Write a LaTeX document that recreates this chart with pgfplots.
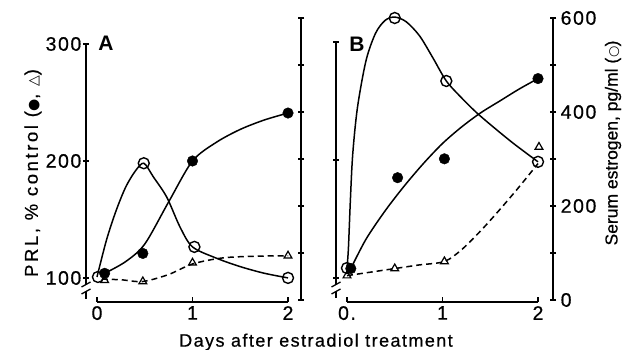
\documentclass[border=0pt]{standalone}
\usepackage{pgfplots}
\pgfplotsset{compat=1.18}
\usepackage{fontspec}
\setmainfont{Liberation Sans}
\newfontfamily\spaced[LetterSpace=8,FakeBold=0.6]{Liberation Sans}
\newfontfamily\wspaced[LetterSpace=14,FakeBold=0.6]{Liberation Sans}
\newfontfamily\plain[FakeBold=0.6]{Liberation Sans}
\newfontfamily\sym{DejaVu Sans}

\pgfplotsset{
  base/.style={scale only axis, anchor=south west, clip=false,
    axis line style={line width=1.5pt,-},
    every tick/.append style={line width=1.5pt,black},
    major tick length=6pt,
    tick label style={font=\spaced\fontsize{19.5}{22}\selectfont},
    /pgf/number format/assume math mode=true},
  na/.style={every outer x axis line/.append style={-},
    every outer y axis line/.append style={-},
    every inner x axis line/.append style={-},
    every inner y axis line/.append style={-},
    x axis line style={-}, y axis line style={-}},
  yonly/.style={axis x line=none, xtick=\empty, tick align=outside,
    yticklabel style={inner sep=1.5pt}},
  xonly/.style={axis y line=none, ytick=\empty, axis x line=bottom,
    tick align=inside, major tick length=5pt, xmin=0, xmax=2, ymin=0, ymax=1,
    xtick={0,1,2}, xticklabel style={inner sep=2pt, yshift=-2pt}},
  crv/.style={black, line width=1.5pt, smooth, tension=0.5, no marks},
  dcrv/.style={black, line width=1.5pt, smooth, tension=0.5, no marks, dash pattern=on 6pt off 4pt},
  fmk/.style={only marks, mark=*, mark size=5.3pt, mark options={fill=black, draw=black}},
  omk/.style={only marks, mark=o, mark size=5.5pt, mark options={fill=white, draw=black, line width=1.4pt}},
  tmk/.style={only marks, mark=triangle, mark size=4.5pt, mark options={fill=white, draw=black, line width=1.2pt}},
}

\begin{document}
\begin{tikzpicture}[x=1pt,y=1pt]
\path[use as bounding box] (0,0) rectangle (628,350);

% ===== Panel A : PRL axis (left) =====
\begin{axis}[base, yonly, at={(86pt,51pt)}, width=215pt, height=255pt,
  xmin=-0.115, xmax=2.136, ymin=82.05, ymax=300,
  axis y line=left, ytick={100,200,300}, na]
  \addplot[crv] coordinates {(0.08,104) (0.3,114) (0.5,129) (0.75,165) (1.0,200) (1.25,216) (1.5,227) (1.75,235) (2.0,241)};
  \addplot[dcrv] coordinates {(0.05,99) (0.25,98.5) (0.48,97) (0.75,103) (1.0,112) (1.3,117) (1.6,118.5) (2.0,119)};
  \addplot[fmk] coordinates {(0.08,104) (0.48,121) (1.0,200) (2.0,241)};
  \addplot[tmk] coordinates {(0.08,98) (0.48,97) (1.0,113) (2.0,119)};
\end{axis}

% ===== Panel A : estrogen axis (right, unlabeled) =====
\begin{axis}[base, yonly, at={(86pt,50pt)}, width=215pt, height=282pt,
  xmin=-0.115, xmax=2.136, ymin=0, ymax=600,
  axis y line=right, ytick={0,100,200,300,400,500,600}, yticklabels={}, na]
  \addplot[crv] coordinates {(0,49) (0.1,128) (0.2,190) (0.3,240) (0.4,274) (0.49,291) (0.59,262) (0.73,219) (0.87,155) (1.0,113) (1.25,89) (1.5,71) (1.75,57) (2.0,47)};
  \addplot[omk] coordinates {(0.01,49) (0.49,291) (1.02,113) (2.0,47)};
\end{axis}

% ===== Panel A : x axis =====
\begin{axis}[base, xonly, at={(97pt,48pt)}, width=191pt, height=100pt, na]
\end{axis}

% ===== Panel B : PRL axis (left, unlabeled) =====
\begin{axis}[base, yonly, at={(336pt,52pt)}, width=217pt, height=256pt,
  xmin=-0.115, xmax=2.157, ymin=83.05, ymax=300,
  axis y line=left, ytick={100,200,300}, yticklabels={}, na]
  \addplot[crv] coordinates {(0.04,108) (0.2,133) (0.4,157) (0.6,178) (0.8,197) (1.0,214) (1.2,228) (1.4,240) (1.6,250) (1.8,260) (2.0,269)};
  \addplot[dcrv] coordinates {(0,102) (0.25,105) (0.5,108) (0.75,111) (1.02,114) (1.2,124) (1.4,140) (1.6,158) (1.8,177) (2.0,197)};
  \addplot[fmk] coordinates {(0.04,108) (0.53,185) (1.02,201) (2.0,269)};
  \addplot[tmk] coordinates {(0.0,102) (0.5,108) (1.02,114) (2.01,211)};
\end{axis}

% ===== Panel B : estrogen axis (right, labeled) =====
\begin{axis}[base, yonly, at={(336pt,50pt)}, width=217pt, height=282pt,
  xmin=-0.115, xmax=2.157, ymin=0, ymax=600,
  axis y line=right, ytick={0,100,200,300,400,500,600},
  yticklabels={0,,200,,400,,600}, yticklabel style={xshift=3pt}, na]
  \addplot[crv] coordinates {(0,68) (0.015,110) (0.035,210) (0.06,310) (0.11,410) (0.2,510) (0.3,568) (0.4,595) (0.5,602) (0.62,592) (0.76,562) (0.9,515) (1.04,466) (1.2,430) (1.36,398) (1.55,365) (1.75,332) (2.0,294)};
  \addplot[omk] coordinates {(0.0,68) (0.5,600) (1.04,466) (2.0,294)};
\end{axis}

% ===== Panel B : x axis =====
\begin{axis}[base, xonly, at={(347pt,48pt)}, width=191pt, height=100pt,
  xticklabels={0.,1,2}, na]
\end{axis}

% axis breaks
\foreach \xa in {86,336}{
  \fill[white] (\xa-4,59) rectangle (\xa+4,66);
  \draw[line width=1.3pt] (\xa-4.5,63) -- (\xa+4.5,68);
  \draw[line width=1.3pt] (\xa-4.5,56) -- (\xa+4.5,61);
}

% labels
\node[rotate=90, font=\wspaced\fontsize{18.5}{20}\selectfont] at (33,177)
  {PRL, \% control ({\sym\fontsize{14}{14}\selectfont ●}, {\sym\fontsize{14}{14}\selectfont △})};
\node[rotate=90, font=\plain\fontsize{17.5}{20}\selectfont] at (613,207)
  {Serum estrogen, pg/ml ({\sym\fontsize{13}{14}\selectfont ○})};
\node[font=\spaced\fontsize{18}{20}\selectfont] at (316,8) {Days after estradiol treatment};
\node[font=\bfseries\fontsize{21}{22}\selectfont] at (106,307) {A};
\node[font=\bfseries\fontsize{21}{22}\selectfont] at (357,306) {B};
\end{tikzpicture}
\end{document}
